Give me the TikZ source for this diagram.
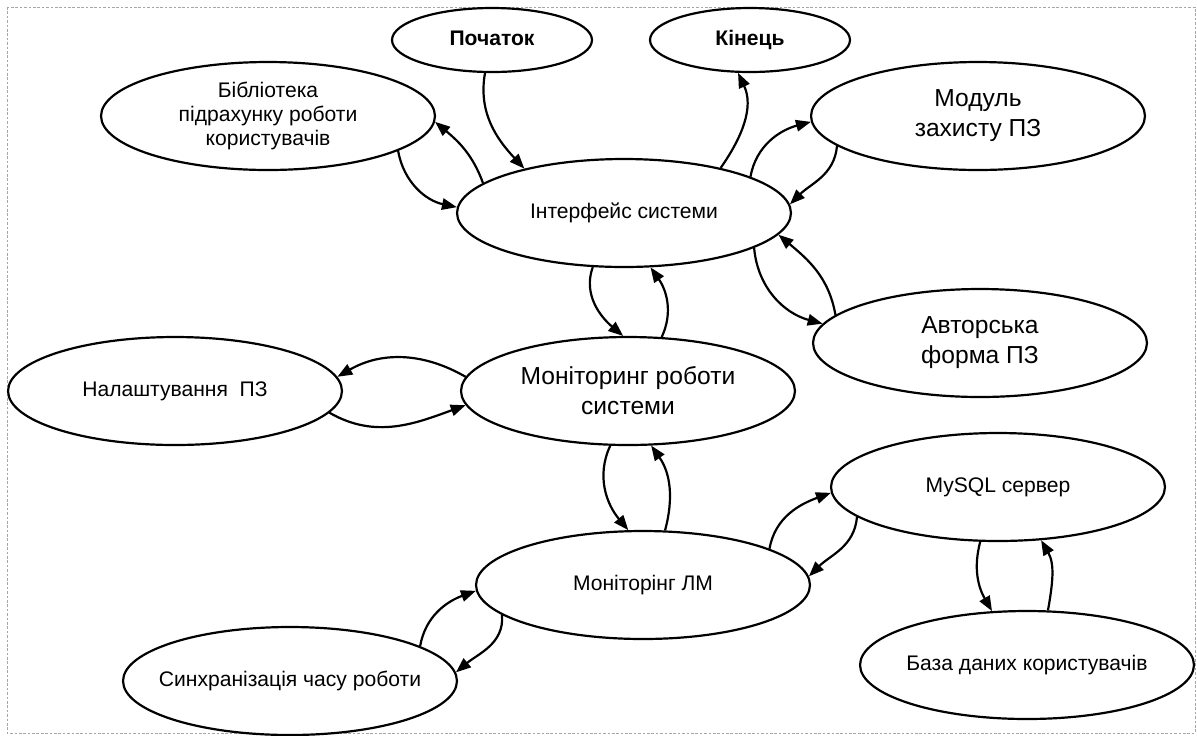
\documentclass[tikz,border=0pt]{standalone}
\usepackage{fontspec}
\setmainfont{Liberation Sans}
\usepackage{tikz}
\usetikzlibrary{arrows.meta,shapes.geometric}
\tikzstyle{every node}=[font=\fontsize{12}{13.6}\selectfont]

\begin{document}
\begin{tikzpicture}[->,>={Triangle[length=8.5pt,width=6.5pt]},line width=1.25pt,
                    x=0.02cm,y=-0.02cm]
  \tikzstyle{oval}=[ellipse,draw,fill=white,text=black,align=center,
                    inner xsep=-0.6cm,inner ysep=0pt,
                    minimum width=6.68cm,minimum height=2.16cm]
  \tikzstyle{termoval}=[oval,minimum width=4cm,minimum height=1.28cm,
                        text height=9pt,text depth=2.5pt,
                        font=\fontsize{12}{13.6}\selectfont\bfseries]
  \tikzstyle{bigtext}=[font=\fontsize{14}{17}\selectfont]

  \useasboundingbox (0,0) rectangle (1197,735);
  \draw[-,line width=0.5pt,black!35,dash pattern=on 1.5pt off 1pt] (7,7) rectangle (1195,733);

  \node[termoval]      (P) at (492,40)  {Початок};
  \node[termoval]      (K) at (750,40)  {Кінець};
  \node[oval]          (B) at (268,116) {Бібліотека\\підрахунку роботи\\користувачів};
  \node[oval]          (I) at (624,213) {Інтерфейс системи};
  \node[oval,bigtext]  (M) at (978,116) {Модуль\\захисту ПЗ};
  \node[oval,bigtext]  (A) at (980,343) {Авторська\\форма ПЗ};
  \node[oval,bigtext]  (R) at (628,391) {Моніторинг роботи\\системи};
  \node[oval]          (N) at (175,391) {Налаштування\ \ ПЗ};
  \node[oval]          (L) at (643,585) {Моніторінг ЛМ};
  \node[oval]          (S) at (998,487) {MySQL сервер};
  \node[oval]          (D) at (1027,665) {База даних користувачів};
  \node[oval]          (C) at (290,681) {Синхранізація часу роботи};

  \path (P.-102) edge [out=-100,in=133] (I.156)
        (I.25)   edge [out=55,in=-65]   (K.-110)
        (I.168)  edge [out=110,in=-40]  (B.-2)
        (B.-15)  edge [out=-80,in=168]  (I.178)
        (I.16)   edge [out=80,in=-165]  (M.-178)
        (M.-168) edge [out=-95,in=45]   (I.3)
        (A.169)  edge [out=100,in=-40]  (I.-8)
        (I.-15)  edge [out=-85,in=165]  (A.173);
  \path (I.-120) edge [out=-110,in=140] (R.95)
        (R.58)   edge [out=65,in=-55]   (I.-64)
        (N.-8)   edge [out=-30,in=-160] (R.-175)
        (R.175)  edge [out=150,in=30]   (N.5)
        (R.-108) edge [out=-115,in=130] (L.105)
        (L.68)   edge [out=75,in=-55]   (R.-67);
  \path (C.15)   edge [out=80,in=-160]  (L.-178)
        (L.-168) edge [out=-85,in=40]   (C.3)
        (L.16)   edge [out=80,in=-160]  (S.-178)
        (S.-168) edge [out=-95,in=45]   (L.3)
        (S.-108) edge [out=-105,in=120] (D.123)
        (D.69)   edge [out=80,in=-60]   (S.-51);
\end{tikzpicture}
\end{document}
